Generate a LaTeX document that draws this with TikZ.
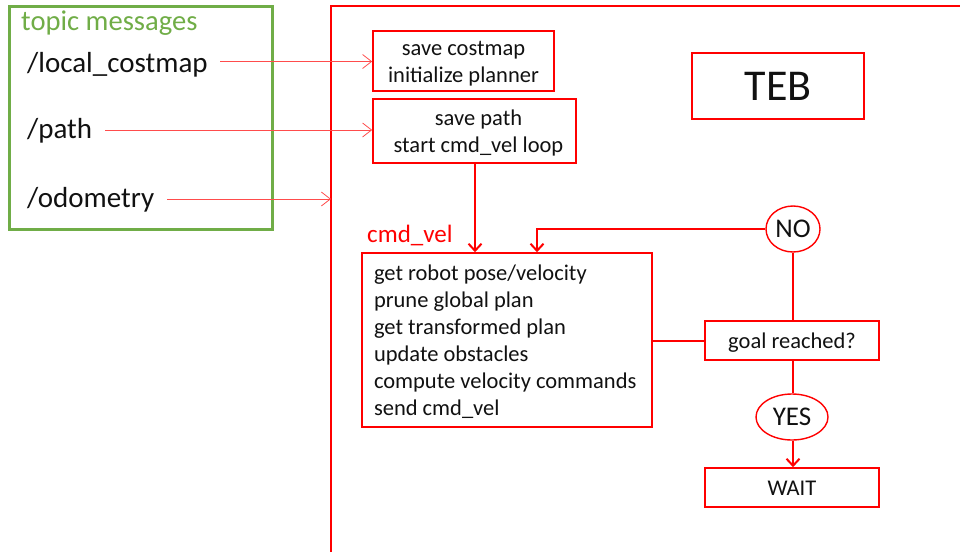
\documentclass[tikz,border=0pt]{standalone}
\usepackage{fontspec}
\setmainfont{Carlito}
\usetikzlibrary{arrows.meta,shapes.geometric}
\definecolor{frgreen}{HTML}{70AD47}
\definecolor{frred}{HTML}{FF0000}
\definecolor{ink}{HTML}{111111}
% raised first-line strut, keeps box text slightly below the centre
\newcommand\firstln{\rule{0pt}{24.9pt}}

\begin{document}
\begin{tikzpicture}[x=1pt,y=-1pt,
  box/.style={draw=frred,line width=1.6pt,inner sep=0pt,align=center,text=ink,
    font=\fontsize{22.5}{27}\selectfont},
  oval/.style={ellipse,draw=frred,line width=1.4pt,inner sep=0pt,text=ink,
    font=\fontsize{27}{30}\selectfont},
  flow/.style={draw=frred,line width=2.4pt},
  flowarrow/.style={flow,-{Straight Barb[length=7pt,width=13pt,line width=2pt]}},
  topic/.style={draw=frred!70,line width=0.8pt,
    -{Straight Barb[length=9pt,width=14pt,line width=0.8pt]}},
  msg/.style={anchor=base west,inner sep=0pt,text=ink,font=\fontsize{29}{32}\selectfont}
]
\useasboundingbox (0,0) rectangle (960,552);

% planner frame
\draw[frred,line width=1.2pt] (331,552) -- (331,6) -- (960,6);
\coordinate (frameL) at (331,199);

% subscribed topics
\node[draw=frgreen,line width=3pt,minimum width=263,minimum height=223,inner sep=0pt]
  (topics) at (140.5,117.5) {};
\node[msg,text=frgreen,font=\fontsize{28.6}{32}\selectfont] (title) at (21,30)
  {topic messages};
\node[msg] (lc) at (27,72) {/local\_costmap};
\node[msg] (path) at (27,138) {/path};
\node[msg] (odom) at (27,207) {/odometry};
\coordinate (lcout) at (220,61.5);
\coordinate (pathout) at (105,130);
\coordinate (odomout) at (167,199);

% callbacks
\node[box,minimum width=181,minimum height=56] (cm) at (463.5,61)
  {\firstln save costmap\\\strut initialize planner};
\node[box,minimum width=203,minimum height=64] (sp) at (474.5,131)
  {\firstln\hspace*{8pt}save path\\\strut\hspace*{8pt}start cmd\_vel loop};
\node[box,minimum width=172,minimum height=66,font=\fontsize{44}{48}\selectfont]
  (teb) at (778,86) {TEB};

% control loop
\node[anchor=base west,inner sep=0pt,text=frred,font=\fontsize{25}{28}\selectfont]
  (cvl) at (367,242) {cmd\_vel};
\node[box,minimum width=290,minimum height=174,align=flush left,text width=266,
  inner xsep=12pt] (loop) at (507,340)
  {\firstln get robot pose/velocity\\prune global plan\\get transformed plan\\
   update obstacles\\compute velocity commands\\\strut send cmd\_vel};

\node[oval,minimum width=54,minimum height=46] (no) at (793,229) {NO};
\node[box,minimum width=174,minimum height=39] (goal) at (792,340.5)
  {\firstln\strut goal reached?};
\node[oval,minimum width=72,minimum height=46] (yes) at (792,417) {YES};
\node[box,minimum width=174,minimum height=39] (wait) at (792,487.5)
  {\firstln\strut WAIT};

% topic connectors
\draw[topic] (lcout) -- (lcout -| cm.west);
\draw[topic] (pathout) -- (pathout -| sp.west);
\draw[topic] (odomout) -- (frameL);

% flow connectors
\draw[flowarrow] (sp.south -| 475,0) -- (loop.north -| 475,0);
\draw[flowarrow] (no.west) -- (537,229) -- (loop.north -| 537,0);
\draw[flow] (no.south -| 793,0) -- (goal.north -| 793,0);
\draw[flow] (loop.east |- 0,341) -- (goal.west |- 0,341);
\draw[flow] (goal.south -| 793,0) -- (yes.north -| 793,0);
\draw[flowarrow] (yes.south -| 793,0) -- (wait.north -| 793,0);
\end{tikzpicture}
\end{document}
